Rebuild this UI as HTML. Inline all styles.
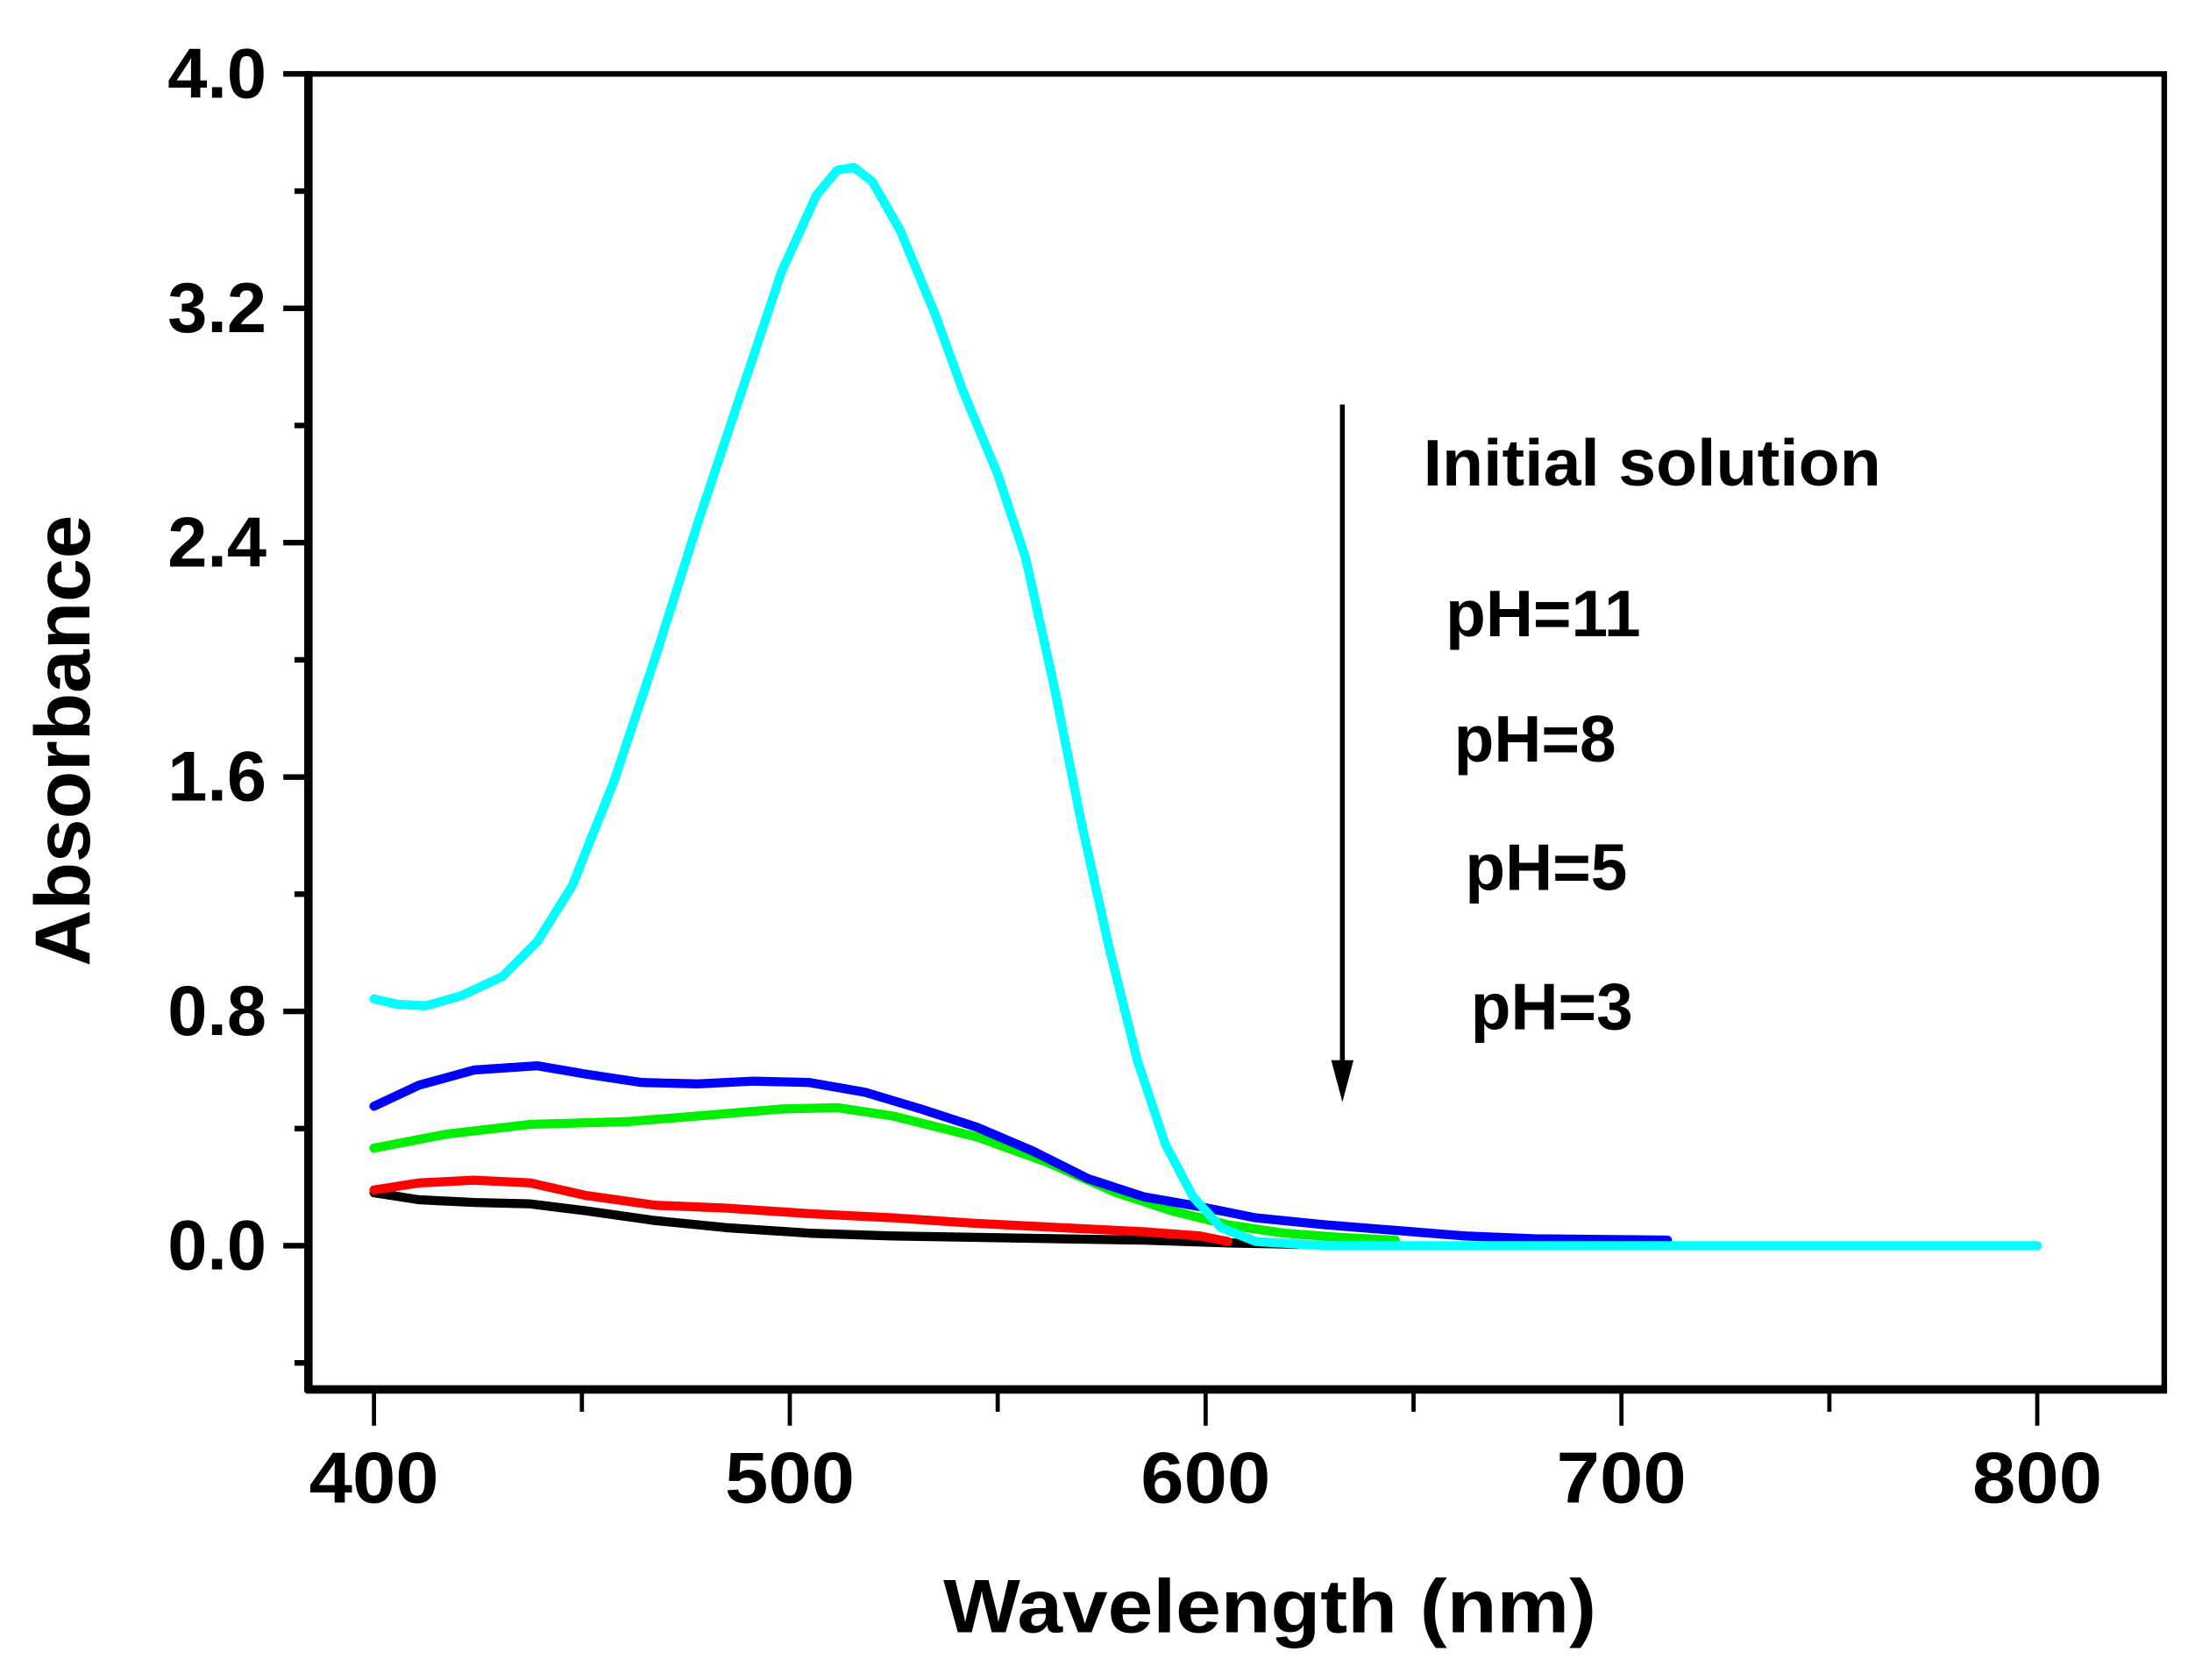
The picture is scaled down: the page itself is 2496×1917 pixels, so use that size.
<!DOCTYPE html>
<html><head><style>html,body{margin:0;padding:0;background:#fff}svg{display:block}</style></head>
<body>
<svg width="2496" height="1917" viewBox="0 0 1568 1204.3" xmlns="http://www.w3.org/2000/svg" font-family="Liberation Sans, Arial, sans-serif" font-weight="bold">
<rect width="1568" height="1205" fill="#fff"/>
<!-- frame -->
<rect x="221" y="53" width="1330" height="943" fill="none" stroke="#000" stroke-width="4"/>
<line x1="221" y1="51" x2="221" y2="998" stroke="#000" stroke-width="6"/>
<line x1="219" y1="996" x2="1553" y2="996" stroke="#000" stroke-width="6"/>
<!-- y ticks -->
<g stroke="#000" stroke-width="4">
<line x1="203" y1="53" x2="221" y2="53"/><line x1="203" y1="221" x2="221" y2="221"/><line x1="203" y1="389" x2="221" y2="389"/><line x1="203" y1="557" x2="221" y2="557"/><line x1="203" y1="725" x2="221" y2="725"/><line x1="203" y1="893" x2="221" y2="893"/>
<line x1="211" y1="137" x2="221" y2="137"/><line x1="211" y1="305" x2="221" y2="305"/><line x1="211" y1="473" x2="221" y2="473"/><line x1="211" y1="641" x2="221" y2="641"/><line x1="211" y1="809" x2="221" y2="809"/><line x1="211" y1="977" x2="221" y2="977"/>
</g>
<g stroke="#000" stroke-width="3">
<line x1="268" y1="996" x2="268" y2="1022"/><line x1="566" y1="996" x2="566" y2="1022"/><line x1="864" y1="996" x2="864" y2="1022"/><line x1="1162" y1="996" x2="1162" y2="1022"/><line x1="1460" y1="996" x2="1460" y2="1022"/>
<line x1="417" y1="996" x2="417" y2="1012"/><line x1="715" y1="996" x2="715" y2="1012"/><line x1="1013" y1="996" x2="1013" y2="1012"/><line x1="1311" y1="996" x2="1311" y2="1012"/>
</g>
<g font-size="51" text-anchor="end">
<text x="191" y="70">4.0</text><text x="191" y="238">3.2</text><text x="191" y="406">2.4</text><text x="191" y="574">1.6</text><text x="191" y="742">0.8</text><text x="191" y="910">0.0</text>
</g>
<g font-size="52" text-anchor="middle">
<text x="268" y="1077" textLength="93" lengthAdjust="spacingAndGlyphs">400</text>
<text x="566" y="1077" textLength="93" lengthAdjust="spacingAndGlyphs">500</text>
<text x="864" y="1077" textLength="93" lengthAdjust="spacingAndGlyphs">600</text>
<text x="1162" y="1077" textLength="93" lengthAdjust="spacingAndGlyphs">700</text>
<text x="1460" y="1077" textLength="93" lengthAdjust="spacingAndGlyphs">800</text>
</g>
<text x="910" y="1170" font-size="54" text-anchor="middle" textLength="468" lengthAdjust="spacingAndGlyphs">Wavelength (nm)</text>
<text transform="translate(64,531) rotate(-90)" font-size="56" text-anchor="middle">Absorbance</text>
<!-- legend -->
<g font-size="47">
<text x="1020" y="348" textLength="328" lengthAdjust="spacingAndGlyphs">Initial solution</text>
<text x="1036" y="456">pH=11</text>
<text x="1042" y="546">pH=8</text>
<text x="1050" y="638">pH=5</text>
<text x="1054" y="738">pH=3</text>
</g>
<line x1="962" y1="290" x2="962" y2="770" stroke="#000" stroke-width="3.5"/>
<polygon points="954,760 970,760 962,790" fill="#000"/>
<!-- curves -->
<g fill="none" stroke-width="6.5" stroke-linejoin="round" stroke-linecap="round">
<polyline stroke="#000" points="268,855 300,860 340,862 380,863 420,868 470,875 520,880 580,884 640,886 700,887 760,888 820,889 880,891 930,892"/>
<polyline stroke="#ff0000" points="268,853 300,848 340,846 380,848 420,857 470,864 520,866 580,870 640,873 700,877 760,880 820,883 860,886 880,890"/>
<polyline stroke="#00ee00" points="268,823 320,813 380,806 450,804 500,800 560,795 600,794 640,800 700,815 750,833 800,855 840,868 880,878 920,884 960,887 1000,889"/>
<polyline stroke="#0000ff" points="268,793 300,778 340,767 385,764 420,770 460,776 500,777 540,775 580,776 620,783 660,795 700,808 740,825 780,845 820,858 860,865 900,873 950,878 1000,882 1050,886 1100,888 1195,889"/>
<polyline stroke="#00ffff" points="268,716 285,720 305,721 330,714 360,700 385,675 410,635 440,560 470,470 500,375 530,285 560,195 585,140 600,122 612,120 625,130 645,165 670,225 690,280 715,340 735,400 755,490 775,590 795,680 815,760 835,820 855,858 875,880 900,890 950,893 1000,893 1460,893"/>
</g>
</svg>
</body></html>
